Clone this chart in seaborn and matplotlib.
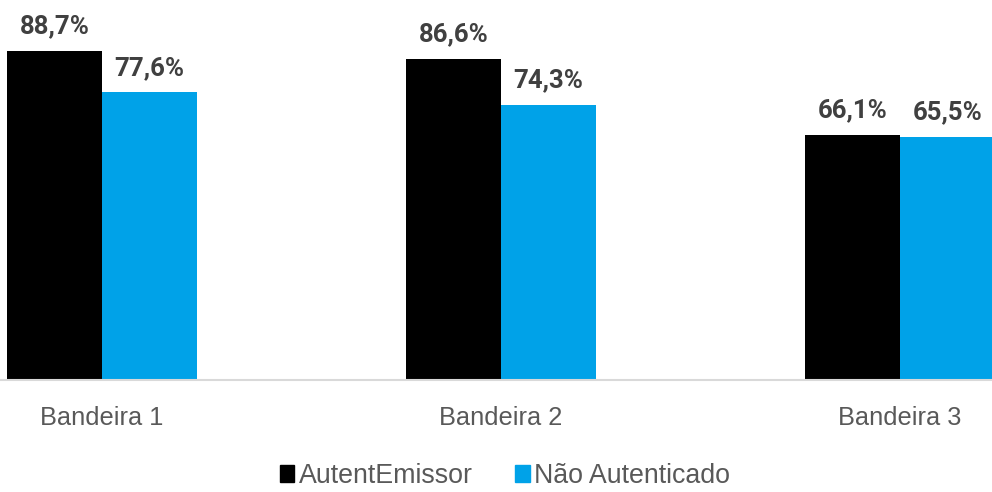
import pandas as pd
import matplotlib.pyplot as plt
import matplotlib.patches as mpatches
import seaborn as sns

# Data
categories = ['Bandeira 1', 'Bandeira 2', 'Bandeira 3']
series = ['AutentEmissor', 'Não Autenticado']
autent = [88.7, 86.6, 66.1]
nao_autent = [77.6, 74.3, 65.5]
colors = ['#000000', '#00A2E8']

df = pd.DataFrame({
    'categoria': categories * 2,
    'serie': [series[0]] * 3 + [series[1]] * 3,
    'valor': autent + nao_autent,
})

sns.set_style('white')
plt.rcParams['font.family'] = ['Liberation Sans', 'DejaVu Sans']

fig = plt.figure(figsize=(9.92, 4.92), dpi=100)
ax = fig.add_axes([0, 1 - 380 / 492, 1, 380 / 492])

sns.barplot(data=df, x='categoria', y='valor', hue='serie', palette=colors,
            width=0.476, gap=0, saturation=1, linewidth=0, legend=False, ax=ax)

ax.set_xlim(-0.2556, 2.2306)
ax.set_ylim(0, 102.5)

# Data labels
for cont in ax.containers:
    labels = [f"{b.get_height():.1f}%".replace('.', ',') for b in cont]
    ax.bar_label(cont, labels=labels, padding=9, fontsize=18.5, fontweight='bold',
                 color='#404040', family=['Liberation Sans Narrow', 'Roboto', 'DejaVu Sans'])

ax.set_xlabel('')
ax.set_ylabel('')
ax.set_yticks([])
ax.tick_params(axis='x', length=0, pad=19, labelsize=18.3, labelcolor='#595959')
for s in ['top', 'left', 'right']:
    ax.spines[s].set_visible(False)
ax.spines['bottom'].set_color('#d9d9d9')
ax.spines['bottom'].set_linewidth(1.5)

handles = [mpatches.Patch(color=c, label=l) for c, l in zip(colors, series)]
fig.legend(handles=handles, loc='center', bbox_to_anchor=(0.509, 1 - 476 / 492), ncol=2,
           frameon=False, fontsize=19.3, labelcolor='#595959', handlelength=0.55,
           handleheight=0.55, handletextpad=0.15, columnspacing=1.6)

fig.savefig('out.png', dpi=100)
